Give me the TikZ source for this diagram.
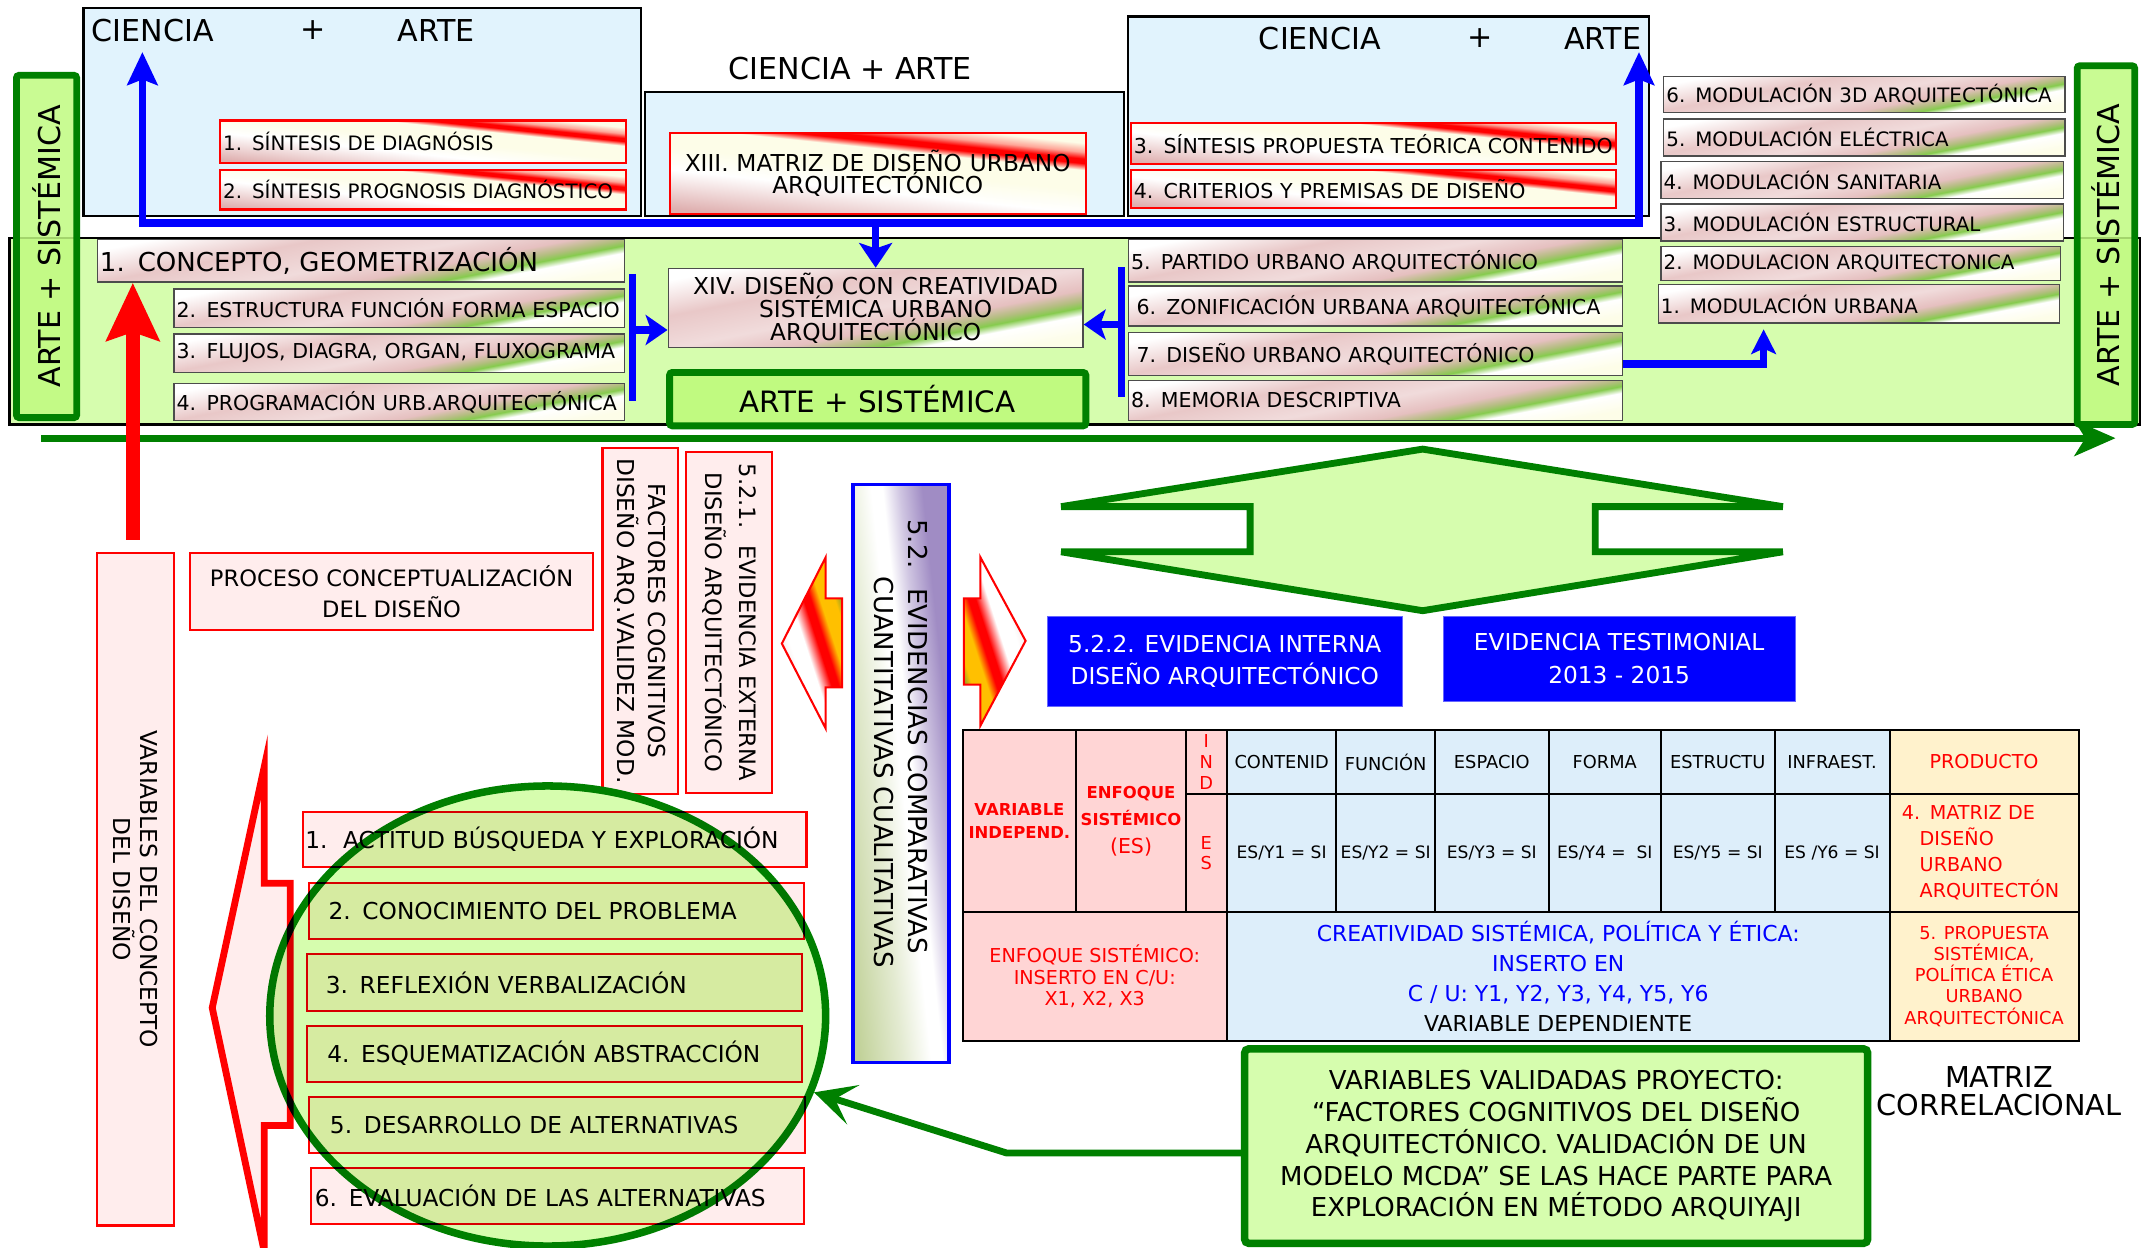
\documentclass[tikz,border=0pt]{standalone}
\usepackage{fontspec}
\setmainfont{DejaVu Sans}
\usepackage{tikz}
\usetikzlibrary{arrows.meta,shapes.geometric,positioning}
\definecolor{cielo}{HTML}{E1F3FD}
\definecolor{cieloT}{HTML}{DDEEFA}
\definecolor{verdep}{HTML}{D6FDAE}
\definecolor{verdec}{HTML}{C0FA80}
\definecolor{verdeo}{HTML}{008000}
\definecolor{verdeg}{HTML}{86CB4E}
\definecolor{rosa}{HTML}{DFB0B0}
\definecolor{rosap}{HTML}{FFEDED}
\definecolor{rosaT}{HTML}{FFD5D5}
\definecolor{crema}{HTML}{FDFDE8}
\definecolor{cremaT}{HTML}{FFF2CC}
\definecolor{naranja}{HTML}{FFC000}
\definecolor{lila}{HTML}{A08CC4}
\definecolor{oliva}{HTML}{C2D29A}
\pgfdeclarehorizontalshading{rosaverde}{100bp}{color(0bp)=(white); color(25bp)=(white); color(38bp)=(rosa!70); color(50bp)=(rosa!45); color(58bp)=(rosa!80); color(62bp)=(rosa!50!verdeg); color(64.5bp)=(verdeg); color(67.5bp)=(white); color(75bp)=(crema); color(100bp)=(crema)}
\pgfdeclarehorizontalshading{rosarojo}{100bp}{color(0bp)=(rosa); color(25bp)=(rosa); color(42bp)=(white); color(52bp)=(crema); color(61bp)=(crema); color(64bp)=(red); color(66bp)=(red); color(69bp)=(red!35!crema); color(73bp)=(crema); color(100bp)=(crema)}
\pgfdeclarehorizontalshading{llama}{100bp}{color(0bp)=(rosa); color(25bp)=(rosa!60); color(38bp)=(white); color(46bp)=(white); color(53bp)=(red); color(57bp)=(red); color(62bp)=(naranja); color(70bp)=(naranja); color(76bp)=(verdeg!70!black); color(100bp)=(verdeg!70!black)}
\pgfdeclarehorizontalshading{lilaverde}{100bp}{color(0bp)=(oliva); color(25bp)=(oliva); color(40bp)=(white!55!oliva); color(50bp)=(white); color(54bp)=(white); color(60bp)=(white!50!lila); color(68bp)=(lila); color(100bp)=(lila)}
\newcommand{\fz}[2]{\fontsize{#1}{#2}\selectfont}

\begin{document}
\begin{tikzpicture}[x=1pt,y=-1pt,
  caja/.style={draw=black,line width=1.6pt,fill=cielo},
  titulo/.style={inner sep=0pt,font=\fz{22}{24}},
  sint/.style={draw=red,line width=1.5pt,shade,shading=rosarojo,shading angle=84,inner xsep=2pt,inner ysep=0pt,align=left,font=\fz{14.5}{16}},
  paso/.style={draw=black!70,line width=1pt,shade,shading=rosaverde,shading angle=-79,inner xsep=2pt,inner ysep=0pt,align=left,font=\fz{15}{17}},
  sistem/.style={draw=verdeo,line width=5pt,rounded corners=2pt,fill=verdec,font=\fz{22}{24}},
  rbox/.style={draw=red,line width=1.5pt,fill=rosap,inner sep=3pt,align=center},
  ebox/.style={draw=red,line width=1.5pt,fill=rosap,inner xsep=2pt,inner ysep=0pt,align=left,font=\fz{17}{19}},
  celda/.style={draw=black,line width=1.5pt,inner sep=1pt,align=center},
  azul/.style={draw=blue,line width=5.5pt},
  punta/.style={-{Stealth[length=24pt,width=22pt,inset=4pt]}}]
\useasboundingbox (0,0) rectangle (1568,911);
\node[caja,minimum width=407pt,minimum height=152pt] (cienA) at (264.5,82) {};
\node[titulo] (cA1) at (111.5,22) {CIENCIA}; \node[titulo] (cA2) at (229,22) {+}; \node[titulo] (cA3) at (318.5,22) {ARTE};
\node[caja,minimum width=350pt,minimum height=91pt] (cienB) at (646,112.5) {};
\node[titulo] (cB) at (621,50) {CIENCIA + ARTE};
\node[caja,minimum width=380pt,minimum height=146pt] (cienC) at (1014,85) {};
\node[titulo] (cC1) at (964,28) {CIENCIA}; \node[titulo] (cC2) at (1081,28) {+}; \node[titulo] (cC3) at (1170.5,28) {ARTE};
\node[sint,text width=292pt,minimum height=31pt] (s1) at (309,103.5) {1. SÍNTESIS DE DIAGNÓSIS};
\node[sint,text width=292pt,minimum height=29pt] (s2) at (309,138.5) {2. SÍNTESIS PROGNOSIS DIAGNÓSTICO};
\node[sint,align=center,text width=300pt,minimum height=59pt,font=\fz{17}{16.5}] (m13) at (641,126.5) {XIII. MATRIZ DE DISEÑO URBANO\\ARQUITECTÓNICO};
\node[sint,text width=350pt,minimum height=30pt,font=\fz{15}{17}] (s3) at (1003,105) {3. SÍNTESIS PROPUESTA TEÓRICA CONTENIDO};
\node[sint,text width=350pt,minimum height=28pt,font=\fz{15}{17}] (s4) at (1003,138) {4. CRITERIOS Y PREMISAS DE DISEÑO};
\node[draw=black,line width=1.6pt,fill=verdep,minimum width=1556pt,minimum height=136pt] (banda) at (785,242) {};
\node[paso,text width=289pt,minimum height=26pt,font=\fz{14.5}{16}] (mod6) at (1361.5,69) {6. MODULACIÓN 3D ARQUITECTÓNICA};
\node[paso,text width=289pt,minimum height=27pt,font=\fz{14.5}{16}] (mod5) at (1361.5,100.5) {5. MODULACIÓN ELÉCTRICA};
\node[paso,text width=290pt,minimum height=27pt,font=\fz{14.5}{16}] (mod4) at (1360,131.5) {4. MODULACIÓN SANITARIA};
\node[paso,text width=290pt,minimum height=27pt,font=\fz{14.5}{16}] (mod3) at (1360,162.5) {3. MODULACIÓN ESTRUCTURAL};
\node[paso,text width=288pt,minimum height=25pt,font=\fz{14.5}{16}] (mod2) at (1359,192.5) {2. MODULACION ARQUITECTONICA};
\node[paso,text width=289pt,minimum height=28pt,font=\fz{14.5}{16}] (mod1) at (1357.5,222) {1. MODULACIÓN URBANA};
\node[sistem,rotate=90,minimum width=250pt,minimum height=44pt,fill opacity=0.85,text opacity=1] (asL) at (34,180) {ARTE + SISTÉMICA};
\node[sistem,rotate=90,minimum width=262pt,minimum height=42pt,fill opacity=0.85,text opacity=1] (asR) at (1538,179) {ARTE + SISTÉMICA};
\node[paso,text width=381pt,minimum height=31pt,font=\fz{19}{21}] (c1) at (263.5,190.5) {1. CONCEPTO, GEOMETRIZACIÓN};
\node[paso,text width=325pt,minimum height=28pt] (c2) at (291.5,225) {2. ESTRUCTURA FUNCIÓN FORMA ESPACIO};
\node[paso,text width=325pt,minimum height=28pt] (c3) at (291.5,258) {3. FLUJOS, DIAGRA, ORGAN, FLUXOGRAMA};
\node[paso,text width=325pt,minimum height=27pt] (c4) at (291.5,293.5) {4. PROGRAMACIÓN URB.ARQUITECTÓNICA};
\node[paso,align=center,text width=299pt,minimum height=58pt,font=\fz{17}{15.5}] (d14) at (639.5,225) {XIV. DISEÑO CON CREATIVIDAD\\SISTÉMICA URBANO\\ARQUITECTÓNICO};
\node[sistem,minimum width=304pt,minimum height=39pt,font=\fz{21.5}{24}] (asC) at (641,291.5) {ARTE + SISTÉMICA};
\node[paso,text width=357pt,minimum height=31pt] (u5) at (1004.5,190.5) {5. PARTIDO URBANO ARQUITECTÓNICO};
\node[paso,text width=357pt,minimum height=29pt] (u6) at (1004.5,223.5) {\hspace*{4pt}6. ZONIFICACIÓN URBANA ARQUITECTÓNICA};
\node[paso,text width=357pt,minimum height=31pt] (u7) at (1004.5,258.5) {\hspace*{4pt}7. DISEÑO URBANO ARQUITECTÓNICO};
\node[paso,text width=357pt,minimum height=29pt] (u8) at (1004.5,292.5) {8. MEMORIA DESCRIPTIVA};
\coordinate (fA) at (104,38); \coordinate (fC) at (1197,38); \coordinate (bM) at (650,163);
\coordinate (bL1) at (462,200); \coordinate (bL2) at (462,293); \coordinate (bLm) at (462,241);
\coordinate (bR1) at (819,195); \coordinate (bR2) at (819,290); \coordinate (bRm) at (819,237);
\draw[azul,{Stealth[length=24pt,width=22pt,inset=4pt]}-{Stealth[length=24pt,width=22pt,inset=4pt]}] (fA) |- (bM) -| (fC);
\draw[azul,-{Stealth[length=18pt,width=24pt,inset=4pt]}] (d14.north |- bM) -- (d14.north);
\draw[azul] (bL1) -- (bL2); \draw[azul,-{Stealth[length=16pt,width=22pt,inset=4pt]}] (bLm) -- (bLm -| d14.west);
\draw[azul] (bR1) -- (bR2); \draw[azul,-{Stealth[length=16pt,width=22pt,inset=4pt]}] (bRm) -- (bRm -| d14.east);
\draw[azul,-{Stealth[length=18pt,width=18pt,inset=4pt]}] ([yshift=-7.5pt]u7.east) -| ([xshift=-69.5pt,yshift=-4pt]mod1.south);
\coordinate (eje0) at (30,320); \coordinate (eje1) at (1545,320);
\draw[draw=verdeo,line width=5pt,-{Stealth[length=30pt,width=26pt,inset=8pt]}] (eje0) -- (eje1);
\node[rbox,rotate=-90,minimum width=491pt,minimum height=56pt,font=\fz{17}{20}] (varc) at (99,649.5) {VARIABLES DEL CONCEPTO\\DEL DISEÑO};
\draw[draw=red,line width=10pt,-{Stealth[length=42pt,width=38pt,inset=6pt]}] ([xshift=-2pt,yshift=9pt]varc.west) -- ([xshift=-2pt]varc.west |- c1.south);
\node[rbox,minimum width=294pt,minimum height=56pt,font=\fz{16.5}{23}] (proc) at (286,432) {PROCESO CONCEPTUALIZACIÓN\\DEL DISEÑO};
\node[rbox,rotate=-90,minimum width=253pt,minimum height=55pt,font=\fz{17}{22}] (fact) at (467.5,453.5) {FACTORES COGNITIVOS\\DISEÑO ARQ.VALIDEZ MOD.};
\node[rbox,rotate=-90,minimum width=249pt,minimum height=63pt,inner xsep=1pt,font=\fz{16.5}{25}] (evx) at (532.5,454.5) {5.2.1.~ EVIDENCIA EXTERNA\\DISEÑO ARQUITECTÓNICO};
\node[draw=blue,line width=2.5pt,shade,shading=lilaverde,shading angle=6,minimum width=70pt,minimum height=422pt] (ev52) at (658,565) {};
\node[rotate=-90,align=left,font=\fz{19}{25}] (ev52t) at (658,543) {5.2.~ EVIDENCIAS COMPARATIVAS\\\hspace*{42pt}CUANTITATIVAS CUALITATIVAS};
\path[draw=red,line width=1.5pt,shade,shading=llama,shading angle=18] (571,470) -- (603,407) -- (603,437) -- (615,437) -- (615,502) -- (603,502) -- (603,532) -- cycle;
\path[draw=red,line width=1.5pt,shade,shading=llama,shading angle=198] (749,468) -- (716,407) -- (716,437) -- (704,437) -- (704,500) -- (716,500) -- (716,530) -- cycle;
\draw[draw=verdeo,line width=5pt,fill=verdep] (775,370) -- (913,370) -- (913,403) -- (775,403) -- (1039,446) -- (1302,403) -- (1165,403) -- (1165,370) -- (1302,370) -- (1039,328) -- cycle;
\node[draw=blue!60,fill=blue,text=white,minimum width=259pt,minimum height=66pt,align=center,font=\fz{17}{24}] (bi1) at (894.5,483) {5.2.2. EVIDENCIA INTERNA\\DISEÑO ARQUITECTÓNICO};
\node[draw=blue!60,fill=blue,text=white,minimum width=257pt,minimum height=62pt,align=center,font=\fz{17}{24}] (bi2) at (1182.5,481) {EVIDENCIA TESTIMONIAL\\2013 - 2015};
\node[celda,fill=rosaT,minimum width=83pt,minimum height=133pt,text=red,font=\bfseries\fz{12}{17}] (vind) at (744.5,599.5) {VARIABLE\\INDEPEND.};
\node[celda,fill=rosaT,minimum width=80pt,minimum height=133pt,text=red,font=\bfseries\fz{12}{20}] (enfo) at (826,599.5) {ENFOQUE\\SISTÉMICO\\{\mdseries\fz{15}{20}(ES)}};
\node[celda,fill=rosaT,minimum width=30pt,minimum height=47pt,inner sep=0pt,text=red,font=\fz{13}{15.5}] (ind) at (881,556.5) {I\\N\\D};
\node[celda,fill=rosaT,minimum width=30pt,minimum height=86pt,inner sep=0pt,text=red,font=\fz{13}{15}] (esc) at (881,623) {E\\S};
\node[celda,fill=cieloT,minimum width=80pt,minimum height=47pt,font=\fz{13}{15}] (h1) at (936,556.5) {CONTENID}; \node[celda,fill=cieloT,minimum width=72pt,minimum height=47pt,font=\fz{13}{15}] (h2) at (1012,556.5) {FUNCIÓN};
\node[celda,fill=cieloT,minimum width=83pt,minimum height=47pt,font=\fz{13}{15}] (h3) at (1089.5,556.5) {ESPACIO}; \node[celda,fill=cieloT,minimum width=82pt,minimum height=47pt,font=\fz{13}{15}] (h4) at (1172,556.5) {FORMA};
\node[celda,fill=cieloT,minimum width=83pt,minimum height=47pt,font=\fz{13}{15}] (h5) at (1254.5,556.5) {ESTRUCTU}; \node[celda,fill=cieloT,minimum width=84pt,minimum height=47pt,font=\fz{13}{15}] (h6) at (1338,556.5) {INFRAEST.};
\node[celda,fill=cieloT,minimum width=80pt,minimum height=86pt,font=\fz{12.5}{15}] (y1) at (936,623) {ES/Y1 = SI}; \node[celda,fill=cieloT,minimum width=72pt,minimum height=86pt,font=\fz{12.5}{15}] (y2) at (1012,623) {ES/Y2 = SI};
\node[celda,fill=cieloT,minimum width=83pt,minimum height=86pt,font=\fz{12.5}{15}] (y3) at (1089.5,623) {ES/Y3 = SI}; \node[celda,fill=cieloT,minimum width=82pt,minimum height=86pt,font=\fz{12.5}{15}] (y4) at (1172,623) {ES/Y4 = \ SI};
\node[celda,fill=cieloT,minimum width=83pt,minimum height=86pt,font=\fz{12.5}{15}] (y5) at (1254.5,623) {ES/Y5 = SI}; \node[celda,fill=cieloT,minimum width=84pt,minimum height=86pt,font=\fz{12.5}{15}] (y6) at (1338,623) {ES /Y6 = SI};
\node[celda,fill=cremaT,minimum width=138pt,minimum height=47pt,text=red,font=\fz{14}{16}] (prod) at (1449,556.5) {PRODUCTO};
\node[celda,fill=cremaT,minimum width=138pt,minimum height=86pt,text=red,align=left,text width=134pt,font=\fz{14}{19}] (prod4) at (1449,623) {\hspace*{7pt}4. MATRIZ DE\\\hspace*{20pt}DISEÑO\\\hspace*{20pt}URBANO\\\hspace*{20pt}ARQUITECTÓN};
\node[celda,fill=rosaT,minimum width=193pt,minimum height=94pt,text=red,font=\fz{14}{16}] (enfx) at (799.5,713) {ENFOQUE SISTÉMICO:\\INSERTO EN C/U:\\X1, X2, X3};
\node[celda,fill=cieloT,minimum width=484pt,minimum height=94pt,text=blue,font=\fz{16}{22}] (crea) at (1138,713) {CREATIVIDAD SISTÉMICA, POLÍTICA Y ÉTICA:\\INSERTO EN\\C / U: Y1, Y2, Y3, Y4, Y5, Y6\\{\color{black}VARIABLE DEPENDIENTE}};
\node[celda,fill=cremaT,minimum width=138pt,minimum height=94pt,text=red,font=\fz{13}{15.5}] (prod5) at (1449,713) {5. PROPUESTA\\SISTÉMICA,\\POLÍTICA ÉTICA\\URBANO\\ARQUITECTÓNICA};
\node[ellipse,draw=verdeo,line width=5.5pt,fill=verdep,minimum width=406pt,minimum height=336pt,inner sep=0pt] (elipse) at (400,742) {};
\begin{scope}[blend mode=multiply]
\draw[draw=red,line width=5pt,fill=rosap] (193,560) -- (193,645) -- (212,645) -- (212,822) -- (193,822) -- (193,914) -- (155,736) -- cycle;
\node[ebox,text width=364pt,minimum height=40pt] (e1) at (405,613) {1.\ \ ACTITUD BÚSQUEDA Y EXPLORACIÓN};
\node[ebox,text width=357pt,minimum height=41pt] (e2) at (406.5,665.5) {\hspace*{12pt}2. CONOCIMIENTO DEL PROBLEMA};
\node[ebox,text width=358pt,minimum height=41pt] (e3) at (405,717.5) {\hspace*{12pt}3. REFLEXIÓN VERBALIZACIÓN};
\node[ebox,text width=358pt,minimum height=41pt] (e4) at (405,769.5) {\hspace*{13pt}4. ESQUEMATIZACIÓN ABSTRACCIÓN};
\node[ebox,text width=358pt,minimum height=41pt] (e5) at (407,821.5) {\hspace*{13pt}5. DESARROLLO DE ALTERNATIVAS};
\node[ebox,text width=356pt,minimum height=41pt] (e6) at (407,873.5) {\hspace*{1pt}6. EVALUACIÓN DE LAS ALTERNATIVAS};
\end{scope}
\node[draw=verdeo,line width=5.5pt,rounded corners=3pt,fill=verdep,minimum width=455pt,minimum height=142pt,align=center,font=\fz{19}{23.3}] (valid) at (1136.5,837) {VARIABLES VALIDADAS PROYECTO:\\“FACTORES COGNITIVOS DEL DISEÑO\\ARQUITECTÓNICO. VALIDACIÓN DE UN\\MODELO MCDA” SE LAS HACE PARTE PARA\\EXPLORACIÓN EN MÉTODO ARQUIYAJI};
\node[align=center,font=\fz{21}{20}] (matc) at (1460,797) {MATRIZ\\CORRELACIONAL};
\coordinate (codo) at (735,842);
\draw[draw=verdeo,line width=5pt,-{Stealth[length=30pt,width=30pt,inset=14pt]}] ([yshift=-5pt]valid.west) -- (codo) -- (elipse.-16);
\end{tikzpicture}
\end{document}
